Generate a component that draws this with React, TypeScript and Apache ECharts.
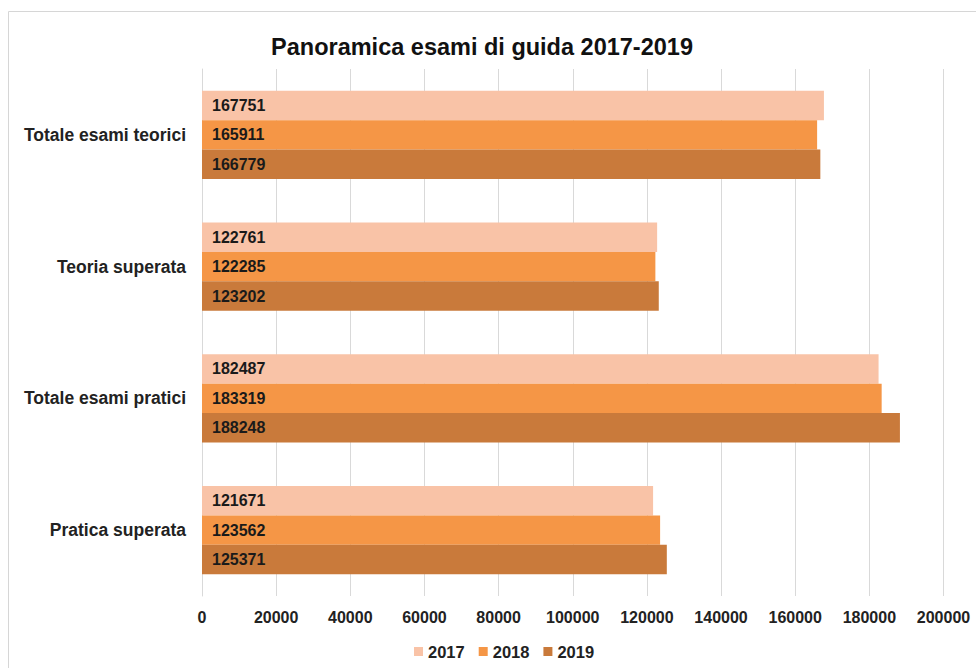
import React, { useEffect, useRef } from "react";
import * as echarts from "echarts";

const categories = ["Totale esami teorici", "Teoria superata", "Totale esami pratici", "Pratica superata"];
const years = ["2017", "2018", "2019"];
const values2017 = [167751, 122761, 182487, 121671];
const values2018 = [165911, 122285, 183319, 123562];
const values2019 = [166779, 123202, 188248, 125371];
const colors = ["#F9C3A7", "#F59646", "#C97A3B"];

export default function App() {
  const ref = useRef<HTMLDivElement>(null);
  useEffect(() => {
    if (!ref.current) return;
    const chart = echarts.init(ref.current, null, { renderer: "svg" });
    const font = "Liberation Sans, Arial, sans-serif";
    const seriesData = [values2017, values2018, values2019];
    chart.setOption({
      animation: false,
      backgroundColor: "#ffffff",
      textStyle: { fontFamily: font },
      title: {
        text: "Panoramica esami di guida 2017-2019",
        left: 477,
        top: 30,
        textAlign: "center",
        textStyle: { fontSize: 23.5, fontWeight: "bold", color: "#111", fontFamily: font },
      },
      graphic: [
        {
          type: "rect",
          shape: { x: 8.5, y: 11.5, width: 1000, height: 1000 },
          style: { fill: "none", stroke: "#d6d6d6", lineWidth: 1 },
          silent: true,
        },
      ],
      legend: {
        bottom: 3,
        left: 409,
        itemWidth: 9,
        itemHeight: 9,
        itemGap: 14,
        icon: "rect",
        textStyle: { fontSize: 16.5, fontWeight: "bold", color: "#222", fontFamily: font },
        data: years,
      },
      grid: { left: 202, right: 976 - 943.5, top: 69, bottom: 668 - 596, containLabel: false },
      xAxis: {
        type: "value",
        min: 0,
        max: 200000,
        interval: 20000,
        axisLine: { show: false },
        axisTick: { show: false },
        splitLine: { show: true, lineStyle: { color: "#d9d9d9", width: 1 } },
        axisLabel: {
          margin: 13,
          fontSize: 16,
          fontWeight: "bold",
          color: "#222",
          fontFamily: font,
          formatter: (v: number) => String(v),
        },
      },
      yAxis: {
        type: "category",
        inverse: true,
        data: categories,
        axisLine: { show: true, lineStyle: { color: "#d9d9d9" } },
        axisTick: { show: false },
        axisLabel: { margin: 16, fontSize: 17.5, fontWeight: "bold", color: "#222", fontFamily: font },
      },
      series: years.map((y, i) => ({
        name: y,
        type: "bar",
        data: seriesData[i],
        barGap: "0%",
        barCategoryGap: "33%",
        itemStyle: { color: colors[i] },
        label: {
          show: true,
          position: "insideLeft",
          distance: 10,
          fontSize: 16,
          fontWeight: "bold",
          color: "#1a1a1a",
          fontFamily: font,
        },
      })),
    });
    return () => chart.dispose();
  }, []);
  return <div ref={ref} style={{ position: "fixed", left: 0, top: 0, width: 976, height: 668 }} />;
}
